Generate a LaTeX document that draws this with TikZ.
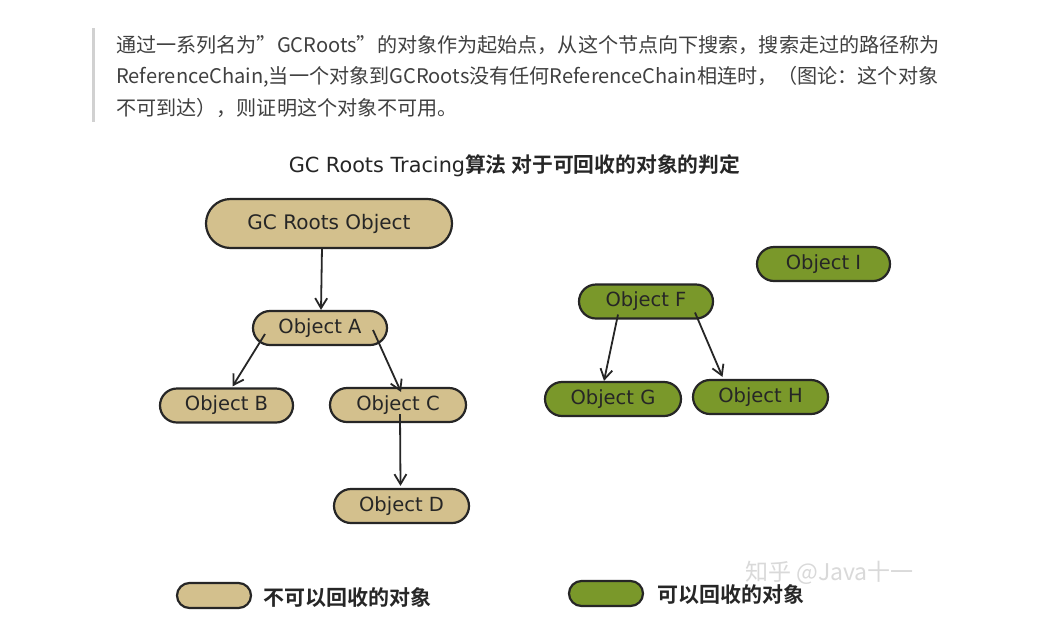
\documentclass[tikz,border=0pt]{standalone}
\usepackage{fontspec}
\setmainfont{Noto Sans CJK SC}
\newfontfamily\cjkb{Noto Sans CJK SC Bold}
\newfontfamily\verd{DejaVu Sans}
\usetikzlibrary{arrows.meta,shapes.misc,calc}
\definecolor{keepTan}{RGB}{211,192,141}
\definecolor{freeGreen}{RGB}{122,152,42}
\definecolor{paraGray}{RGB}{64,64,64}
\tikzset{
    obj/.style={rounded rectangle, draw=black!85, line width=2.2pt, minimum width=134pt,
        minimum height=34pt, inner sep=0pt, font=\verd\fontsize{19.5}{19.5}\selectfont, text=black!85},
    keep/.style={obj, fill=keepTan},
    free/.style={obj, fill=freeGreen},
    ref/.style={black!85, line width=1.8pt, -{Straight Barb[length=10pt,width=12pt,line width=1.8pt]}},
    para/.style={anchor=west, inner sep=0pt, text=paraGray, font=\fontsize{20.1}{20.1}\selectfont}
}
\begin{document}
\begin{tikzpicture}[x=1pt, y=-1pt]
    \path[use as bounding box, fill=white] (0,0) rectangle (1041,630);
    % quote bar and paragraph
    \fill[black!18] (92,28) rectangle (95,122);
    \node[para] (line1) at (116,45) {通过一系列名为”GCRoots”的对象作为起始点，从这个节点向下搜索，搜索走过的路径称为};
    \node[para] (line2) at (116,77) {ReferenceChain,当一个对象到GCRoots没有任何ReferenceChain相连时，（图论：这个对象};
    \node[para] (line3) at (116,108) {不可到达），则证明这个对象不可用。};
    % title
    \node[inner sep=0pt, text=black!85] (title) at (514.5,166) {{\verd\fontsize{20.8}{20.8}\selectfont GC Roots Tracing}{\cjkb\fontsize{20.8}{20.8}\selectfont 算法 对于可回收的对象的判定}};
    % objects still reachable
    \node[keep, minimum width=246pt, minimum height=49pt, font=\verd\fontsize{20}{20}\selectfont] (root) at (329,223.5) {GC Roots Object};
    \node[keep] (objA) at (320,328) {Object A};
    \node[keep, minimum width=133pt] (objB) at (226.5,405.5) {Object B};
    \node[keep, minimum width=136pt] (objC) at (398,405) {Object C};
    \node[keep, minimum width=135pt] (objD) at (401.5,506) {Object D};
    % objects to be collected
    \node[free, minimum width=133pt] (objI) at (823.5,264) {Object I};
    \node[free] (objF) at (646,301.5) {Object F};
    \node[free, minimum width=136pt] (objG) at (613,399) {Object G};
    \node[free, minimum width=135pt] (objH) at (760.5,397) {Object H};
    % references
    \draw[ref] ($(root.south)+(-7,-2)$) -- ($(objA.north)+(1,0)$);
    \draw[ref] ($(objA.center)+(-55,6)$) -- ($(objB.north)+(6,-1)$);
    \draw[ref] ($(objA.center)+(53,2)$) -- ($(objC.north)+(3,5)$);
    \draw[ref] ($(objC.center)+(2,9)$) -- ($(objD.north)+(-1,-2)$);
    \draw[ref] ($(objF.center)+(-28,13)$) -- ($(objG.north)+(-9,0)$);
    \draw[ref] ($(objF.center)+(49,11)$) -- ($(objH.north)+(-38,-2)$);
    % legend
    \node[keep, minimum width=74pt, minimum height=25pt] (keepKey) at (214,595.5) {};
    \node[anchor=west, inner sep=0pt, text=black!85, font=\cjkb\fontsize{21}{21}\selectfont] (keepText) at (263,598) {不可以回收的对象};
    \node[free, minimum width=74pt, minimum height=25pt] (freeKey) at (606,593.5) {};
    \node[anchor=west, inner sep=0pt, text=black!85, font=\cjkb\fontsize{21}{21}\selectfont] (freeText) at (657,595) {可以回收的对象};
    \node[anchor=west, inner sep=0pt, text=black!15, font=\fontsize{23}{23}\selectfont] (mark) at (745,573) {知乎 @Java十一};
\end{tikzpicture}
\end{document}
